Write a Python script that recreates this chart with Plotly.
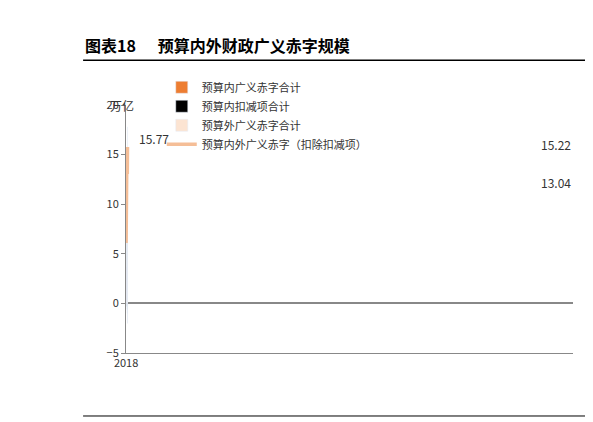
import plotly.graph_objects as go

years = ['2018', '2019', '2020', '2021', '2022', '2023', '2024', '2025E']
inner = [3.6, 4.8, 8.3, 7.1, 8.5, 8.0, 9.3, 12.5]
outer = [2.6, 3.9, 6.5, 6.3, 6.8, 6.6, 4.6, 5.3]
deduct = [0, 0, -0.2, -0.3, -0.2, -0.6, -1.0, -2.0]
total_line = [6.1, 8.8, 14.8, 13.4, 15.22, 14.5, 13.04, 15.77]
label_idx = {4: (15, -8), 6: (15, 8), 7: (15, -8)}

FONT = "Noto Sans CJK SC"
fig = go.Figure()
fig.add_bar(x=years, y=inner, name='预算内广义赤字合计', marker_color='#ED7D31', width=0.32)
fig.add_bar(x=years, y=deduct, name='预算内扣减项合计', marker_color='#000000', width=0.32)
fig.add_bar(x=years, y=outer, name='预算外广义赤字合计', marker_color='#FCE4D2', width=0.32)
fig.add_scatter(x=years, y=total_line, name='预算内外广义赤字（扣除扣减项）', mode='lines',
                line=dict(color='#F5BE97', width=3.5))

for i, (dx, dy) in label_idx.items():
    fig.add_annotation(x=years[i], y=total_line[i], text=f'{total_line[i]:.2f}', showarrow=False,
                       xshift=dx + 12, yshift=-dy, font=dict(size=12, color='#333'))

fig.update_layout(
    width=593, height=422, barmode='relative', plot_bgcolor='white', paper_bgcolor='white',
    font=dict(family=FONT, size=11, color='#333'),
    margin=dict(l=118, r=28, t=97, b=77),
    legend=dict(orientation='h', x=0.08, y=1.13, xanchor='left', yanchor='top',
                traceorder='normal', entrywidth=0.52, entrywidthmode='fraction',
                font=dict(size=11)),
    xaxis=dict(type='category', showline=True, linecolor='#888', ticks='', tickfont=dict(size=11)),
    yaxis=dict(range=[-5, 20], dtick=5, showgrid=False, zeroline=True, zerolinecolor='#888',
               showline=True, linecolor='#888', ticks='outside', ticklen=4, tickcolor='#888'),
)
fig.add_annotation(xref='paper', yref='paper', x=-0.04, y=1.04, text='万亿', showarrow=False,
                   font=dict(size=12))
fig.add_annotation(xref='paper', yref='paper', x=-0.096, y=1.24, xanchor='left', yanchor='middle',
                   text='<b>图表18      预算内外财政广义赤字规模</b>', showarrow=False,
                   font=dict(size=16, color='#000'))
fig.add_shape(type='line', xref='paper', yref='paper', x0=-0.096, x1=1.03, y0=1.18, y1=1.18,
              line=dict(color='#000', width=1.5))
fig.add_shape(type='line', xref='paper', yref='paper', x0=-0.096, x1=1.03, y0=-0.254, y1=-0.254,
              line=dict(color='#000', width=1))
fig.add_annotation(xref='paper', yref='paper', x=-0.096, y=-0.265, xanchor='left', yanchor='top',
                   text='<i>资料来源：wind，平安证券研究所</i>', showarrow=False,
                   font=dict(size=13, color='#000'))
fig.write_html("out.html")
